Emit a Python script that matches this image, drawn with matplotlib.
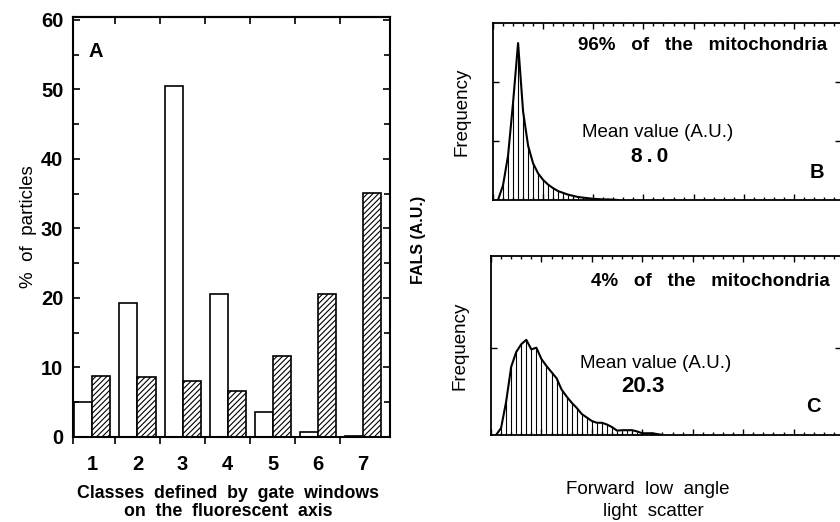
import numpy as np
import matplotlib
matplotlib.use('Agg')
import matplotlib.pyplot as plt
from matplotlib.ticker import MultipleLocator, FixedLocator

plt.rcParams['font.family'] = ['Liberation Sans', 'DejaVu Sans']
plt.rcParams['hatch.linewidth'] = 0.8

# ── Panel A: % of particles per gate class ──
classes = [1, 2, 3, 4, 5, 6, 7]
open_bars = [5.0, 19.2, 50.5, 20.6, 3.6, 0.7, 0.2]
hatched_bars = [8.8, 8.6, 8.1, 6.6, 11.7, 20.6, 35.1]

# ── Panel B: FALS histogram, 96% population ──
b_chan = np.arange(1, 26)
b_freq = [0.0, 0.25, 0.75, 1.65, 2.66, 1.5, 0.92, 0.62, 0.45, 0.34, 0.26, 0.2,
          0.15, 0.12, 0.09, 0.07, 0.05, 0.04, 0.03, 0.02, 0.015, 0.01, 0.01,
          0.005, 0.0]

# ── Panel C: FALS histogram, 4% population ──
c_chan = np.arange(1, 35)
c_freq = [0.0, 0.08, 0.38, 0.78, 0.95, 1.04, 1.09, 0.98, 1.0, 0.87, 0.79, 0.72,
          0.65, 0.52, 0.44, 0.37, 0.31, 0.24, 0.2, 0.16, 0.14, 0.14, 0.12, 0.09,
          0.05, 0.055, 0.055, 0.055, 0.04, 0.02, 0.02, 0.02, 0.01, 0.0]

W, H = 840, 522
fig = plt.figure(figsize=(W / 100, H / 100), dpi=100)

def box(l, t, r, b):
    return [l / W, 1 - b / H, (r - l) / W, (b - t) / H]

# ── A ──
axA = fig.add_axes(box(73, 17, 390, 437))
x = np.array(classes)
axA.bar(x - 0.2, open_bars, width=0.4, color='white', edgecolor='black', linewidth=1.2)
axA.bar(x + 0.2, hatched_bars, width=0.4, color='white', edgecolor='black',
        linewidth=1.2, hatch='//////')
axA.set_xlim(0.57, 7.6)
axA.set_ylim(0, 60.4)
for s in axA.spines.values():
    s.set_linewidth(1.5)
axA.yaxis.set_major_locator(MultipleLocator(10))
axA.yaxis.set_minor_locator(MultipleLocator(5))
axA.tick_params(axis='y', which='both', direction='in', left=True, right=True,
                width=1.2, labelsize=14.5, pad=7)
axA.tick_params(axis='y', which='major', length=5)
axA.tick_params(axis='y', which='minor', length=4)
axA.set_xticks(classes)
axA.xaxis.set_minor_locator(FixedLocator([0.57, 1.5, 2.5, 3.5, 4.5, 5.5, 6.5]))
axA.tick_params(axis='x', which='major', length=0, labelsize=14.5, pad=13)
axA.tick_params(axis='x', which='minor', direction='out', length=5, width=1.2)
for lab in axA.get_xticklabels() + axA.get_yticklabels():
    lab.set_fontweight('bold')
topA = axA.secondary_xaxis('top')
topA.set_xticks([1.5, 2.5, 3.5, 4.5, 5.5, 6.5])
topA.tick_params(direction='in', length=5, width=1.2, labeltop=False)
topA.spines['top'].set_linewidth(1.5)
axA.text(1.07, 55.5, 'A', fontsize=14.5, fontweight='bold', ha='center', va='center')
axA.set_ylabel('%  of  particles', fontsize=13.5, labelpad=3)
fig.text(228 / W, 1 - 494 / H, 'Classes  defined  by  gate  windows', fontsize=12.8,
         fontweight='bold', ha='center', va='center')
fig.text(228 / W, 1 - 512 / H, 'on  the  fluorescent  axis', fontsize=12.8,
         fontweight='bold', ha='center', va='center')

# ── B and C histograms ──
def hist_panel(ax, chan, freq, ymax, yticks):
    ax.vlines(chan, 0, freq, color='black', linewidth=0.8)
    ax.plot(chan, freq, color='black', linewidth=1.5)
    ax.set_xlim(0, 69.4)
    ax.set_ylim(0, ymax)
    for s in ax.spines.values():
        s.set_linewidth(1.3)
    ax.xaxis.set_major_locator(MultipleLocator(10))
    ax.xaxis.set_minor_locator(MultipleLocator(2))
    ax.set_yticks(yticks)
    ax.tick_params(which='both', direction='in', top=True, bottom=True, left=True,
                   right=True, labelbottom=False, labelleft=False, width=1.0)
    ax.tick_params(which='major', length=4)
    ax.tick_params(which='minor', length=2)
    ax.set_ylabel('Frequency', fontsize=13.5, labelpad=16)

axB = fig.add_axes(box(493, 23, 841, 200))
hist_panel(axB, b_chan, b_freq, 3.0, [1, 2])
axC = fig.add_axes(box(491, 256, 841, 435))
hist_panel(axC, c_chan, c_freq, 2.05, [1])

def ft(px, py, s, **kw):
    fig.text(px / W, 1 - py / H, s, ha='center', va='center', **kw)

ft(703, 46, '96%   of   the   mitochondria', fontsize=13.5, fontweight='bold')
ft(658, 133, 'Mean value (A.U.)', fontsize=13.5)
ft(650, 157, '8\u2009.\u20090', fontsize=15, fontweight='bold')
ft(817, 173, 'B', fontsize=14.5, fontweight='bold')
ft(710, 282, '4%   of   the   mitochondria', fontsize=13.5, fontweight='bold')
ft(656, 363, 'Mean value (A.U.)', fontsize=13.5)
ft(643, 387, '20.3', fontsize=16, fontweight='bold')
ft(813, 407, 'C', fontsize=14.5, fontweight='bold')
ft(418, 240, 'FALS (A.U.)', fontsize=11.5, fontweight='bold', rotation=90)
ft(648, 490, 'Forward  low  angle', fontsize=13.5)
ft(653, 512, 'light  scatter', fontsize=13.5)

plt.savefig('out.png', dpi=100)
plt.close()
